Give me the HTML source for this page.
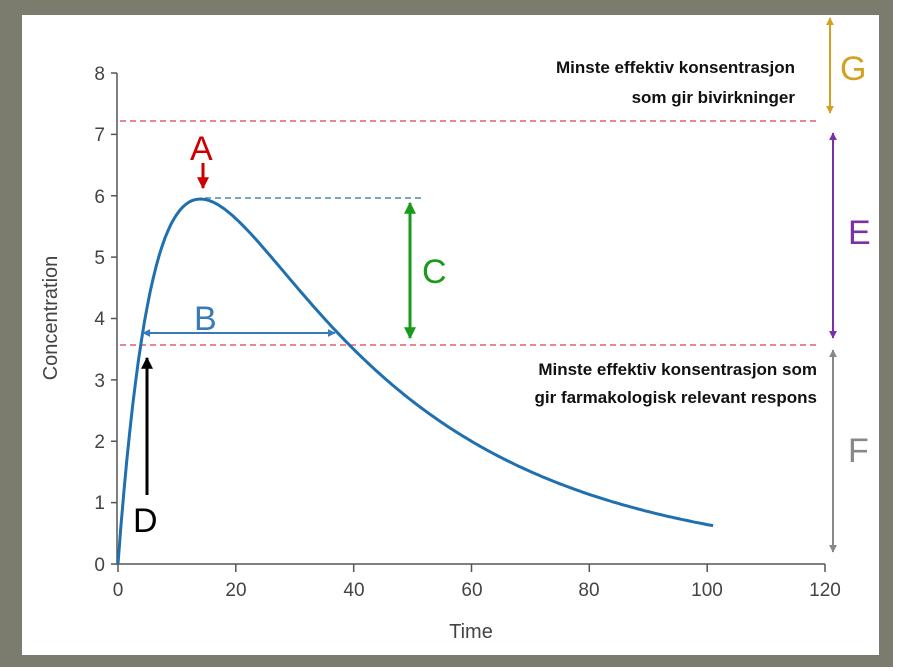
<!DOCTYPE html>
<html><head><meta charset="utf-8"><style>
body{margin:0;background:#fff}
svg{display:block}
text{font-family:"Liberation Sans",sans-serif}
.b{font-weight:bold;font-size:17px;fill:#111}
.ax{fill:#444;font-size:19px}
</style></head><body>
<svg width="900" height="671" xmlns="http://www.w3.org/2000/svg">
<defs>
<marker id="ah" viewBox="0 0 10 10" refX="9" refY="5" markerWidth="4" markerHeight="4" orient="auto-start-reverse"><path d="M0,0L10,5L0,10z" fill="context-stroke"/></marker>
</defs>
<rect x="0" y="0" width="893" height="667" fill="#7b7c6e"/>
<rect x="22" y="15" width="857" height="640" fill="#fff"/>
<g stroke="#555" stroke-width="1.5" fill="none">
<path d="M117,73V564H825"/>
<path d="M111,73H117M111,134.4H117M111,195.8H117M111,257.1H117M111,318.5H117M111,379.9H117M111,441.3H117M111,502.6H117M111,564H117"/>
<path d="M118,564V572M235.8,564V572M353.7,564V572M471.5,564V572M589.3,564V572M707.2,564V572M825,564V572"/>
</g>
<g class="ax" text-anchor="end">
<text x="105" y="80">8</text><text x="105" y="141">7</text><text x="105" y="203">6</text><text x="105" y="264">5</text><text x="105" y="325">4</text><text x="105" y="387">3</text><text x="105" y="448">2</text><text x="105" y="509">1</text><text x="105" y="571">0</text>
</g>
<g class="ax" text-anchor="middle">
<text x="118" y="596">0</text><text x="236" y="596">20</text><text x="354" y="596">40</text><text x="472" y="596">60</text><text x="589" y="596">80</text><text x="707" y="596">100</text><text x="825" y="596">120</text>
<text x="471" y="638" font-size="20">Time</text>
<text transform="translate(57,318) rotate(-90)" font-size="20">Concentration</text>
</g>
<g stroke-dasharray="6,4" stroke-width="1.5" fill="none">
<path d="M120,121H818" stroke="#e06070"/>
<path d="M120,345H818" stroke="#e06070"/>
<path d="M205,198H425" stroke="#4a8ab0"/>
</g>
<path id="curve" d="" stroke="#2070b0" stroke-width="3" fill="none"/>
<g stroke-width="3" fill="none" marker-end="url(#ah)">
<path d="M203,163V188" stroke="#cc0000"/>
<path d="M410,203V338" stroke="#1a9a1a" marker-start="url(#ah)"/>
<path d="M143,333H335" stroke="#3a7ab8" stroke-width="2" marker-start="url(#ah)"/>
<path d="M147,495V358" stroke="#000"/>
<path d="M830,18V113" stroke="#d4a020" stroke-width="2" marker-start="url(#ah)"/>
<path d="M833,133V338" stroke="#7a30a8" stroke-width="2" marker-start="url(#ah)"/>
<path d="M833,350V552" stroke="#888" stroke-width="2" marker-start="url(#ah)"/>
</g>
<g font-size="34">
<text x="190" y="160" fill="#cc0000">A</text>
<text x="194" y="330" fill="#3a7ab8">B</text>
<text x="422" y="283" fill="#1a9a1a">C</text>
<text x="133" y="532" fill="#000">D</text>
<text x="848" y="244" fill="#7a30a8">E</text>
<text x="848" y="462" fill="#888">F</text>
<text x="840" y="80" fill="#d4a020">G</text>
</g>
<g class="b" text-anchor="end">
<text x="795" y="73">Minste effektiv konsentrasjon</text>
<text x="795" y="103">som gir bivirkninger</text>
<text x="817" y="375">Minste effektiv konsentrasjon som</text>
<text x="817" y="403">gir farmakologisk relevant respons</text>
</g>
<script>
var d="";for(var t=0;t<=101;t+=0.5){var c=11*(Math.exp(-0.0284*t)-Math.exp(-0.145*t));var x=118+t*5.8917,y=564-c*61.375;d+=(t?"L":"M")+x.toFixed(1)+","+y.toFixed(1);}
document.getElementById("curve").setAttribute("d",d);
</script>
</svg>
</body></html>
